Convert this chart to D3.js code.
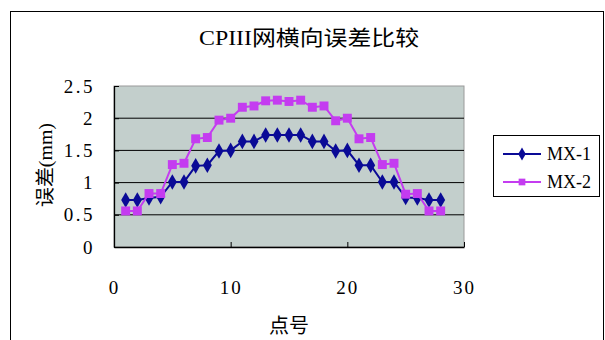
<!DOCTYPE html>
<html><head><meta charset="utf-8">
<script src="https://cdn.jsdelivr.net/npm/d3@7/dist/d3.min.js"></script>
<style>body{margin:0;background:#fff;}svg{display:block;}</style>
</head><body>
<script>
const title = "CPIII网横向误差比较";
const xTitle = "点号";
const yTitle = "误差(mm)";
const seriesNames = ["MX-1", "MX-2"];
const points = d3.range(1, 29);
const mx1 = [0.73,0.73,0.76,0.78,1.01,1.01,1.26,1.27,1.49,1.50,1.64,1.64,1.74,1.74,
             1.74,1.74,1.64,1.64,1.49,1.50,1.27,1.27,1.01,1.01,0.77,0.76,0.73,0.73];
const mx2 = [0.56,0.56,0.83,0.83,1.28,1.30,1.68,1.70,1.97,2.00,2.17,2.19,2.27,2.28,
             2.26,2.28,2.17,2.19,1.96,2.00,1.68,1.70,1.28,1.30,0.82,0.83,0.56,0.56];
const xTicks = [0,10,20,30];
const yTicks = [0,0.5,1,1.5,2,2.5];
const yTickLabels = ["0","0.5","1","1.5","2","2.5"];

const W = 605, H = 340;
const svg = d3.select("body").append("svg").attr("width", W).attr("height", H);
const latin = "'Liberation Serif','DejaVu Serif','Noto Sans CJK SC',serif";
const cjk = "'Noto Sans CJK SC',sans-serif";

// outer chart frame
svg.append("rect").attr("x", 10.5).attr("y", 11.5).attr("width", 593).attr("height", 340)
  .attr("fill", "#fff").attr("stroke", "#000").attr("stroke-width", 1);

const L = 114, R = 464, T = 86, B = 247;
const x = d3.scaleLinear().domain([0, 30]).range([L, R]);
const y = d3.scaleLinear().domain([0, 2.5]).range([B, T]);

svg.append("rect").attr("x", L).attr("y", T).attr("width", R - L).attr("height", B - T)
  .attr("fill", "#c3cfcc").attr("stroke", "#9a9a9a").attr("stroke-width", 1);

// gridlines
svg.append("g").selectAll("line").data(yTicks.filter(d => d > 0 && d < 2.5)).join("line")
  .attr("x1", L).attr("x2", R).attr("y1", d => y(d)).attr("y2", d => y(d))
  .attr("stroke", "#000").attr("stroke-width", 1);

// axes
const xAxis = d3.axisBottom(x).tickValues(xTicks).tickSizeInner(-5).tickSizeOuter(0).tickPadding(34);
const gx = svg.append("g").attr("transform", `translate(0,${B})`).call(xAxis);
gx.select(".domain").attr("stroke", "#000").attr("stroke-width", 1.3);
gx.selectAll(".tick line").attr("stroke", "#000");
gx.selectAll("text").attr("font-family", latin).attr("font-size", 19).attr("fill", "#000")
  .attr("letter-spacing", 2);

const yAxis = d3.axisLeft(y).tickValues(yTicks).tickFormat((d, i) => yTickLabels[i])
  .tickSizeInner(-5).tickSizeOuter(0).tickPadding(19);
const gy = svg.append("g").attr("transform", `translate(${L},0)`).call(yAxis);
gy.select(".domain").attr("stroke", "#000").attr("stroke-width", 1.3);
gy.selectAll(".tick line").attr("stroke", "#000");
gy.selectAll("text").attr("font-family", latin).attr("font-size", 19).attr("fill", "#000")
  .attr("letter-spacing", 2.5);

// title
svg.append("text").attr("x", 309).attr("y", 45).attr("text-anchor", "middle")
  .attr("font-family", latin).attr("font-size", 21).attr("fill", "#000")
  .attr("textLength", 220).attr("lengthAdjust", "spacingAndGlyphs").text(title);
svg.append("text").attr("x", 289).attr("y", 333).attr("text-anchor", "middle")
  .attr("font-family", cjk).attr("font-size", 20).attr("fill", "#000").text(xTitle);
svg.append("text").attr("transform", "translate(52,165) rotate(-90)").attr("text-anchor", "middle")
  .attr("font-family", latin).attr("font-size", 19).attr("fill", "#000")
  .attr("textLength", 84).attr("lengthAdjust", "spacingAndGlyphs").text(yTitle);

const colors = ["#0a0a96", "#c43cf0"];
const data = [mx1, mx2];
const diamond = d3.symbol().type(d3.symbolDiamond).size(70);
const square = d3.symbol().type(d3.symbolSquare).size(80);
const line = d3.line().x((d, i) => x(points[i])).y(d => y(d));

data.forEach((s, k) => {
  svg.append("path").datum(s).attr("d", line).attr("fill", "none")
    .attr("stroke", colors[k]).attr("stroke-width", 2);
  svg.append("g").selectAll("path").data(s).join("path")
    .attr("transform", (d, i) => `translate(${x(points[i])},${y(d)})`)
    .attr("d", k === 0 ? diamond : square).attr("fill", colors[k]);
});

// legend
const lg = svg.append("g");
lg.append("rect").attr("x", 493.5).attr("y", 135.5).attr("width", 106).attr("height", 61)
  .attr("fill", "#fff").attr("stroke", "#000").attr("stroke-width", 1);
seriesNames.forEach((n, k) => {
  const yy = 154 + k * 28;
  lg.append("line").attr("x1", 503).attr("x2", 541).attr("y1", yy).attr("y2", yy)
    .attr("stroke", colors[k]).attr("stroke-width", 2);
  lg.append("path").attr("transform", `translate(522,${yy})`)
    .attr("d", k === 0 ? d3.symbol().type(d3.symbolDiamond).size(50)() : d3.symbol().type(d3.symbolSquare).size(45)())
    .attr("fill", colors[k]);
  lg.append("text").attr("x", 547).attr("y", yy + 6).attr("font-family", latin)
    .attr("font-size", 18).attr("fill", "#000")
    .attr("textLength", 44).attr("lengthAdjust", "spacingAndGlyphs").text(n);
});
</script>
</body></html>
